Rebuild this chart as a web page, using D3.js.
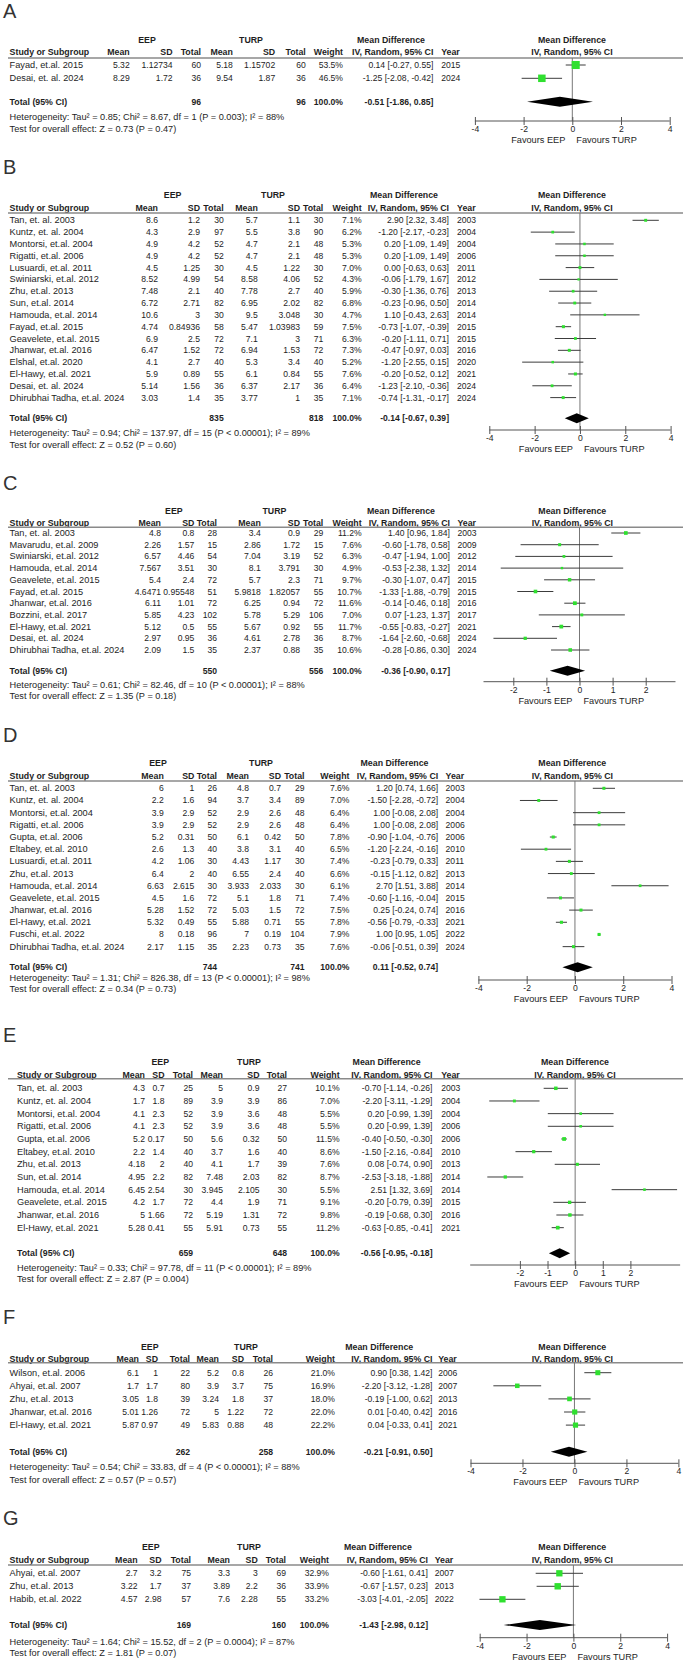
<!DOCTYPE html>
<html>
<head>
<meta charset="utf-8">
<script src="https://cdn.jsdelivr.net/npm/d3@7/dist/d3.min.js"></script>
<style>
  body { margin: 0; background: #fff; }
  svg { display: block; }
</style>
</head>
<body>
<svg id="chart" width="685" height="1663"></svg>
<script>
// rows: study, EEP mean, sd, n, TURP mean, sd, n, weight %, MD, lo, hi, year
const rowsA = [
  ["Fayad, et.al. 2015", 5.32, 1.12734, 60, 5.18, 1.15702, 60, 53.5, 0.14, -0.27, 0.55, 2015],
  ["Desai, et. al. 2024", 8.29, 1.72, 36, 9.54, 1.87, 36, 46.5, -1.25, -2.08, -0.42, 2024]
];
const rowsB = [
  ["Tan, et. al. 2003", 8.6, 1.2, 30, 5.7, 1.1, 30, 7.1, 2.90, 2.32, 3.48, 2003],
  ["Kuntz, et. al. 2004", 4.3, 2.9, 97, 5.5, 3.8, 90, 6.2, -1.20, -2.17, -0.23, 2004],
  ["Montorsi, et.al. 2004", 4.9, 4.2, 52, 4.7, 2.1, 48, 5.3, 0.20, -1.09, 1.49, 2004],
  ["Rigatti, et.al. 2006", 4.9, 4.2, 52, 4.7, 2.1, 48, 5.3, 0.20, -1.09, 1.49, 2006],
  ["Lusuardi, et.al. 2011", 4.5, 1.25, 30, 4.5, 1.22, 30, 7.0, 0.00, -0.63, 0.63, 2011],
  ["Swiniarski, et.al. 2012", 8.52, 4.99, 54, 8.58, 4.06, 52, 4.3, -0.06, -1.79, 1.67, 2012],
  ["Zhu, et.al. 2013", 7.48, 2.1, 40, 7.78, 2.7, 40, 5.9, -0.30, -1.36, 0.76, 2013],
  ["Sun, et.al. 2014", 6.72, 2.71, 82, 6.95, 2.02, 82, 6.8, -0.23, -0.96, 0.50, 2014],
  ["Hamouda, et.al. 2014", 10.6, 3, 30, 9.5, 3.048, 30, 4.7, 1.10, -0.43, 2.63, 2014],
  ["Fayad, et.al. 2015", 4.74, 0.84936, 58, 5.47, 1.03983, 59, 7.5, -0.73, -1.07, -0.39, 2015],
  ["Geavelete, et.al. 2015", 6.9, 2.5, 72, 7.1, 3, 71, 6.3, -0.20, -1.11, 0.71, 2015],
  ["Jhanwar, et.al. 2016", 6.47, 1.52, 72, 6.94, 1.53, 72, 7.3, -0.47, -0.97, 0.03, 2016],
  ["Elshal, et.al. 2020", 4.1, 2.7, 40, 5.3, 3.4, 40, 5.2, -1.20, -2.55, 0.15, 2020],
  ["El-Hawy, et.al. 2021", 5.9, 0.89, 55, 6.1, 0.84, 55, 7.6, -0.20, -0.52, 0.12, 2021],
  ["Desai, et. al. 2024", 5.14, 1.56, 36, 6.37, 2.17, 36, 6.4, -1.23, -2.10, -0.36, 2024],
  ["Dhirubhai Tadha, et.al. 2024", 3.03, 1.4, 35, 3.77, 1, 35, 7.1, -0.74, -1.31, -0.17, 2024]
];
const rowsC = [
  ["Tan, et. al. 2003", 4.8, 0.8, 28, 3.4, 0.9, 29, 11.2, 1.40, 0.96, 1.84, 2003],
  ["Mavarudu, et.al. 2009", 2.26, 1.57, 15, 2.86, 1.72, 15, 7.6, -0.60, -1.78, 0.58, 2009],
  ["Swiniarski, et.al. 2012", 6.57, 4.46, 54, 7.04, 3.19, 52, 6.3, -0.47, -1.94, 1.00, 2012],
  ["Hamouda, et.al. 2014", 7.567, 3.51, 30, 8.1, 3.791, 30, 4.9, -0.53, -2.38, 1.32, 2014],
  ["Geavelete, et.al. 2015", 5.4, 2.4, 72, 5.7, 2.3, 71, 9.7, -0.30, -1.07, 0.47, 2015],
  ["Fayad, et.al. 2015", 4.6471, 0.95548, 51, 5.9818, 1.82057, 55, 10.7, -1.33, -1.88, -0.79, 2015],
  ["Jhanwar, et.al. 2016", 6.11, 1.01, 72, 6.25, 0.94, 72, 11.6, -0.14, -0.46, 0.18, 2016],
  ["Bozzini, et.al. 2017", 5.85, 4.23, 102, 5.78, 5.29, 106, 7.0, 0.07, -1.23, 1.37, 2017],
  ["El-Hawy, et.al. 2021", 5.12, 0.5, 55, 5.67, 0.92, 55, 11.7, -0.55, -0.83, -0.27, 2021],
  ["Desai, et. al. 2024", 2.97, 0.95, 36, 4.61, 2.78, 36, 8.7, -1.64, -2.60, -0.68, 2024],
  ["Dhirubhai Tadha, et.al. 2024", 2.09, 1.5, 35, 2.37, 0.88, 35, 10.6, -0.28, -0.86, 0.30, 2024]
];
const rowsD = [
  ["Tan, et. al. 2003", 6, 1, 26, 4.8, 0.7, 29, 7.6, 1.20, 0.74, 1.66, 2003],
  ["Kuntz, et. al. 2004", 2.2, 1.6, 94, 3.7, 3.4, 89, 7.0, -1.50, -2.28, -0.72, 2004],
  ["Montorsi, et.al. 2004", 3.9, 2.9, 52, 2.9, 2.6, 48, 6.4, 1.00, -0.08, 2.08, 2004],
  ["Rigatti, et.al. 2006", 3.9, 2.9, 52, 2.9, 2.6, 48, 6.4, 1.00, -0.08, 2.08, 2006],
  ["Gupta, et.al. 2006", 5.2, 0.31, 50, 6.1, 0.42, 50, 7.8, -0.90, -1.04, -0.76, 2006],
  ["Eltabey, et.al. 2010", 2.6, 1.3, 40, 3.8, 3.1, 40, 6.5, -1.20, -2.24, -0.16, 2010],
  ["Lusuardi, et.al. 2011", 4.2, 1.06, 30, 4.43, 1.17, 30, 7.4, -0.23, -0.79, 0.33, 2011],
  ["Zhu, et.al. 2013", 6.4, 2, 40, 6.55, 2.4, 40, 6.6, -0.15, -1.12, 0.82, 2013],
  ["Hamouda, et.al. 2014", 6.63, 2.615, 30, 3.933, 2.033, 30, 6.1, 2.70, 1.51, 3.88, 2014],
  ["Geavelete, et.al. 2015", 4.5, 1.6, 72, 5.1, 1.8, 71, 7.4, -0.60, -1.16, -0.04, 2015],
  ["Jhanwar, et.al. 2016", 5.28, 1.52, 72, 5.03, 1.5, 72, 7.5, 0.25, -0.24, 0.74, 2016],
  ["El-Hawy, et.al. 2021", 5.32, 0.49, 55, 5.88, 0.71, 55, 7.8, -0.56, -0.79, -0.33, 2021],
  ["Fuschi, et.al. 2022", 8, 0.18, 96, 7, 0.19, 104, 7.9, 1.00, 0.95, 1.05, 2022],
  ["Dhirubhai Tadha, et.al. 2024", 2.17, 1.15, 35, 2.23, 0.73, 35, 7.6, -0.06, -0.51, 0.39, 2024]
];
const rowsE = [
  ["Tan, et. al. 2003", 4.3, 0.7, 25, 5, 0.9, 27, 10.1, -0.70, -1.14, -0.26, 2003],
  ["Kuntz, et. al. 2004", 1.7, 1.8, 89, 3.9, 3.9, 86, 7.0, -2.20, -3.11, -1.29, 2004],
  ["Montorsi, et.al. 2004", 4.1, 2.3, 52, 3.9, 3.6, 48, 5.5, 0.20, -0.99, 1.39, 2004],
  ["Rigatti, et.al. 2006", 4.1, 2.3, 52, 3.9, 3.6, 48, 5.5, 0.20, -0.99, 1.39, 2006],
  ["Gupta, et.al. 2006", 5.2, 0.17, 50, 5.6, 0.32, 50, 11.5, -0.40, -0.50, -0.30, 2006],
  ["Eltabey, et.al. 2010", 2.2, 1.4, 40, 3.7, 1.6, 40, 8.6, -1.50, -2.16, -0.84, 2010],
  ["Zhu, et.al. 2013", 4.18, 2, 40, 4.1, 1.7, 39, 7.6, 0.08, -0.74, 0.90, 2013],
  ["Sun, et.al. 2014", 4.95, 2.2, 82, 7.48, 2.03, 82, 8.7, -2.53, -3.18, -1.88, 2014],
  ["Hamouda, et.al. 2014", 6.45, 2.54, 30, 3.945, 2.105, 30, 5.5, 2.51, 1.32, 3.69, 2014],
  ["Geavelete, et.al. 2015", 4.2, 1.7, 72, 4.4, 1.9, 71, 9.1, -0.20, -0.79, 0.39, 2015],
  ["Jhanwar, et.al. 2016", 5, 1.66, 72, 5.19, 1.31, 72, 9.8, -0.19, -0.68, 0.30, 2016],
  ["El-Hawy, et.al. 2021", 5.28, 0.41, 55, 5.91, 0.73, 55, 11.2, -0.63, -0.85, -0.41, 2021]
];
const rowsF = [
  ["Wilson, et.al. 2006", 6.1, 1, 22, 5.2, 0.8, 26, 21.0, 0.90, 0.38, 1.42, 2006],
  ["Ahyai, et.al. 2007", 1.7, 1.7, 80, 3.9, 3.7, 75, 16.9, -2.20, -3.12, -1.28, 2007],
  ["Zhu, et.al. 2013", 3.05, 1.8, 39, 3.24, 1.8, 37, 18.0, -0.19, -1.00, 0.62, 2013],
  ["Jhanwar, et.al. 2016", 5.01, 1.26, 72, 5, 1.22, 72, 22.0, 0.01, -0.40, 0.42, 2016],
  ["El-Hawy, et.al. 2021", 5.87, 0.97, 49, 5.83, 0.88, 48, 22.2, 0.04, -0.33, 0.41, 2021]
];
const rowsG = [
  ["Ahyai, et.al. 2007", 2.7, 3.2, 75, 3.3, 3, 69, 32.9, -0.60, -1.61, 0.41, 2007],
  ["Zhu, et.al. 2013", 3.22, 1.7, 37, 3.89, 2.2, 36, 33.9, -0.67, -1.57, 0.23, 2013],
  ["Habib, et.al. 2022", 4.57, 2.98, 57, 7.6, 2.28, 55, 33.2, -3.03, -4.01, -2.05, 2022]
];

// totals: EEP n, TURP n, MD, lo, hi
const totalsA = [96, 96, -0.51, -1.86, 0.85];
const totalsB = [835, 818, -0.14, -0.67, 0.39];
const totalsC = [550, 556, -0.36, -0.90, 0.17];
const totalsD = [744, 741, 0.11, -0.52, 0.74];
const totalsE = [659, 648, -0.56, -0.95, -0.18];
const totalsF = [262, 258, -0.21, -0.91, 0.50];
const totalsG = [169, 160, -1.43, -2.98, 0.12];

const heterogeneity = [
  "Heterogeneity: Tau² = 0.85; Chi² = 8.67, df = 1 (P = 0.003); I² = 88%",
  "Heterogeneity: Tau² = 0.94; Chi² = 137.97, df = 15 (P < 0.00001); I² = 89%",
  "Heterogeneity: Tau² = 0.61; Chi² = 82.46, df = 10 (P < 0.00001); I² = 88%",
  "Heterogeneity: Tau² = 1.31; Chi² = 826.38, df = 13 (P < 0.00001); I² = 98%",
  "Heterogeneity: Tau² = 0.33; Chi² = 97.78, df = 11 (P < 0.00001); I² = 89%",
  "Heterogeneity: Tau² = 0.54; Chi² = 33.83, df = 4 (P < 0.00001); I² = 88%",
  "Heterogeneity: Tau² = 1.64; Chi² = 15.52, df = 2 (P = 0.0004); I² = 87%"
];
const overallTests = [
  "Test for overall effect: Z = 0.73 (P = 0.47)",
  "Test for overall effect: Z = 0.52 (P = 0.60)",
  "Test for overall effect: Z = 1.35 (P = 0.18)",
  "Test for overall effect: Z = 0.34 (P = 0.73)",
  "Test for overall effect: Z = 2.87 (P = 0.004)",
  "Test for overall effect: Z = 0.57 (P = 0.57)",
  "Test for overall effect: Z = 1.81 (P = 0.07)"
];
const panelLabels = ["A", "B", "C", "D", "E", "F", "G"];
const ticksWide = [-4, -2, 0, 2, 4];
const ticksNarrow = [-2, -1, 0, 1, 2];

// layout (pixel positions) per panel
const layouts = [
  { label: 11, h1: 40, h2: 52.3, line: 58, row0: 65, step: 13.3, total: 101.7, het: 117.3, test: 128.6, axis: 121,
    study: 9.6, m1: 129.7, s1: 172.6, n1: 201, m2: 232.9, s2: 275.2, n2: 305.8, w: 343, ci: 433.4, yr: 441.2,
    eep: 147, turp: 251, md: 391, fhead: 572, fx: [474.9, 669.7], ticks: ticksWide, ext: [-4, 4] },
  { label: 166.7, h1: 195, h2: 207.7, line: 213, row0: 220.3, step: 11.82, total: 418.3, het: 432.7, test: 445, axis: 430,
    study: 9.6, m1: 158, s1: 200, n1: 223.7, m2: 257.8, s2: 300, n2: 323.3, w: 361.7, ci: 449, yr: 457,
    eep: 172.6, turp: 273, md: 404, fhead: 572, fx: [489.3, 670.6], ticks: ticksWide, ext: [-4, 4] },
  { label: 483.3, h1: 511, h2: 522.7, line: 527.3, row0: 533, step: 11.7, total: 670.7, het: 684.7, test: 696, axis: 681.7,
    study: 9.6, m1: 161, s1: 194.4, n1: 217, m2: 260.8, s2: 300, n2: 323.3, w: 361.7, ci: 450, yr: 457.4,
    eep: 173.9, turp: 274.4, md: 401, fhead: 572.3, fx: [513.3, 645.7], ticks: ticksNarrow, ext: [-2.9, 2.9] },
  { label: 735, h1: 763.3, h2: 776, line: 781, row0: 788.3, step: 12.18, total: 967.3, het: 978, test: 989, axis: 980,
    study: 9.6, m1: 163.8, s1: 194.4, n1: 217, m2: 249, s2: 281, n2: 304.5, w: 349.5, ci: 438.2, yr: 445.6,
    eep: 158, turp: 261, md: 394.5, fhead: 572.3, fx: [478.4, 671.5], ticks: ticksWide, ext: [-4, 4] },
  { label: 1035, h1: 1061.7, h2: 1075, line: 1078.7, row0: 1088.3, step: 12.67, total: 1253.3, het: 1267.7, test: 1279.3, axis: 1265,
    study: 17, m1: 145, s1: 164.5, n1: 193, m2: 223, s2: 259.5, n2: 287, w: 339.7, ci: 432.5, yr: 441.2,
    eep: 160.3, turp: 249, md: 386.6, fhead: 575, fx: [519.9, 630.4], ticks: ticksNarrow, ext: [-3.8, 3.8] },
  { label: 1317, h1: 1347, h2: 1359, line: 1362.7, row0: 1372.7, step: 13.1, total: 1451.7, het: 1467, test: 1479.5, axis: 1463.3,
    study: 9.6, m1: 139, s1: 158, n1: 190, m2: 219, s2: 244, n2: 273, w: 335, ci: 432.5, yr: 438.2,
    eep: 149.8, turp: 246, md: 379.2, fhead: 572.3, fx: [470.5, 678.4], ticks: ticksWide, ext: [-4, 4] },
  { label: 1518.3, h1: 1546.7, h2: 1560, line: 1565, row0: 1573.3, step: 13, total: 1625, het: 1641.7, test: 1653.3, axis: 1637.7,
    study: 9.6, m1: 137.6, s1: 161.6, n1: 191, m2: 230, s2: 257.8, n2: 286, w: 329, ci: 428, yr: 434.7,
    eep: 150.7, turp: 249, md: 377.9, fhead: 572.3, fx: [479.7, 667.1], ticks: ticksWide, ext: [-4, 4] }
];

const allRows = [rowsA, rowsB, rowsC, rowsD, rowsE, rowsF, rowsG];
const allTotals = [totalsA, totalsB, totalsC, totalsD, totalsE, totalsF, totalsG];

const svg = d3.select("#chart");
const INK = "#1e1e1e";
const FS = 8.6;      // numeric cells
const FS_TEXT = 9.2; // study names, notes
const FS_HEAD = 8.8; // bold headers
const FONT = "'Liberation Sans', Arial, sans-serif";

function txt(g, x, y, s, anchor, bold, size) {
  return g.append("text")
    .attr("x", x).attr("y", y)
    .attr("text-anchor", anchor || "start")
    .attr("dominant-baseline", "central")
    .attr("font-family", FONT)
    .attr("font-size", size || FS)
    .attr("font-weight", bold ? "bold" : null)
    .attr("fill", INK)
    .text(s);
}

const fmt = v => v.toFixed(2);
const ciText = (m, lo, hi) => `${fmt(m)} [${fmt(lo)}, ${fmt(hi)}]`;
const side = d3.scaleSqrt().domain([0, 100]).range([0, 11]);

allRows.forEach((rows, i) => {
  const L = layouts[i];
  const tot = allTotals[i];
  const g = svg.append("g").attr("class", "panel");

  g.append("text")
    .attr("x", 3).attr("y", L.label)
    .attr("dominant-baseline", "central")
    .attr("font-family", FONT)
    .attr("font-size", 20).attr("fill", "#333")
    .text(panelLabels[i]);

  // header
  txt(g, L.eep, L.h1, "EEP", "middle", true, FS_HEAD);
  txt(g, L.turp, L.h1, "TURP", "middle", true, FS_HEAD);
  txt(g, L.md, L.h1, "Mean Difference", "middle", true, FS_HEAD);
  txt(g, L.fhead, L.h1, "Mean Difference", "middle", true, FS_HEAD);
  txt(g, L.study, L.h2, "Study or Subgroup", "start", true, FS_HEAD);
  [["m1", "Mean"], ["s1", "SD"], ["n1", "Total"], ["m2", "Mean"], ["s2", "SD"], ["n2", "Total"], ["w", "Weight"],
   ["ci", "IV, Random, 95% CI"]].forEach(([k, s]) => txt(g, L[k], L.h2, s, "end", true, FS_HEAD));
  txt(g, L.yr, L.h2, "Year", "start", true, FS_HEAD);
  txt(g, L.fhead, L.h2, "IV, Random, 95% CI", "middle", true, FS_HEAD);

  g.append("line")
    .attr("x1", 8).attr("x2", 683)
    .attr("y1", L.line).attr("y2", L.line)
    .attr("stroke", "#8a8a8a").attr("stroke-width", 1.4);

  const x = d3.scaleLinear().domain([L.ticks[0], L.ticks[L.ticks.length - 1]]).range(L.fx);
  const y = d => L.row0 + d * L.step;

  // zero line
  g.append("line")
    .attr("x1", x(0)).attr("x2", x(0))
    .attr("y1", L.line).attr("y2", L.axis)
    .attr("stroke", "#777").attr("stroke-width", 1);

  // rows
  rows.forEach((r, j) => {
    const yy = y(j);
    txt(g, L.study, yy, r[0], "start", false, FS_TEXT);
    ["m1", "s1", "n1", "m2", "s2", "n2"].forEach((k, c) => txt(g, L[k], yy, String(r[c + 1]), "end"));
    txt(g, L.w, yy, r[7].toFixed(1) + "%", "end");
    txt(g, L.ci, yy, ciText(r[8], r[9], r[10]), "end");
    txt(g, L.yr, yy, String(r[11]), "start");
  });

  const marks = g.append("g");
  marks.selectAll("line.ci").data(rows).join("line")
    .attr("class", "ci")
    .attr("x1", d => x(d[9])).attr("x2", d => x(d[10]))
    .attr("y1", (d, j) => y(j)).attr("y2", (d, j) => y(j))
    .attr("stroke", "#3c3c3c").attr("stroke-width", 1);
  marks.selectAll("rect").data(rows).join("rect")
    .attr("x", d => x(d[8]) - side(d[7]) / 2)
    .attr("y", (d, j) => y(j) - side(d[7]) / 2)
    .attr("width", d => side(d[7]))
    .attr("height", d => side(d[7]))
    .attr("fill", "#2fe02f");

  // total row
  txt(g, L.study, L.total, "Total (95% CI)", "start", true, FS_HEAD);
  txt(g, L.n1, L.total, String(tot[0]), "end", true);
  txt(g, L.n2, L.total, String(tot[1]), "end", true);
  txt(g, L.w, L.total, "100.0%", "end", true);
  txt(g, L.ci, L.total, ciText(tot[2], tot[3], tot[4]), "end", true);

  const dh = 5;
  g.append("path")
    .attr("d", d3.line()([[x(tot[3]), L.total], [x(tot[2]), L.total - dh], [x(tot[4]), L.total], [x(tot[2]), L.total + dh]]) + "Z")
    .attr("fill", "#000");

  txt(g, L.study, L.het, heterogeneity[i], "start", false, FS_TEXT);
  txt(g, L.study, L.test, overallTests[i], "start", false, FS_TEXT);

  // axis
  g.append("line")
    .attr("x1", x(L.ext[0])).attr("x2", x(L.ext[1]))
    .attr("y1", L.axis).attr("y2", L.axis)
    .attr("stroke", "#555").attr("stroke-width", 1);
  const ax = g.append("g")
    .attr("transform", `translate(0,${L.axis})`)
    .call(d3.axisBottom(x).tickValues(L.ticks).tickSize(4).tickSizeOuter(0).tickFormat(d => String(d)));
  ax.select(".domain").remove();
  ax.selectAll(".tick line").attr("y1", -4).attr("y2", 4).attr("stroke", "#555");
  ax.selectAll(".tick text")
    .attr("y", 8).attr("dy", null)
    .attr("dominant-baseline", "central")
    .attr("font-family", FONT).attr("font-size", FS).attr("fill", INK);

  txt(g, x(0) - 7, L.axis + 19, "Favours EEP", "end", false, FS_TEXT);
  txt(g, x(0) + 4, L.axis + 19, "Favours TURP", "start", false, FS_TEXT);
});
</script>
</body>
</html>
